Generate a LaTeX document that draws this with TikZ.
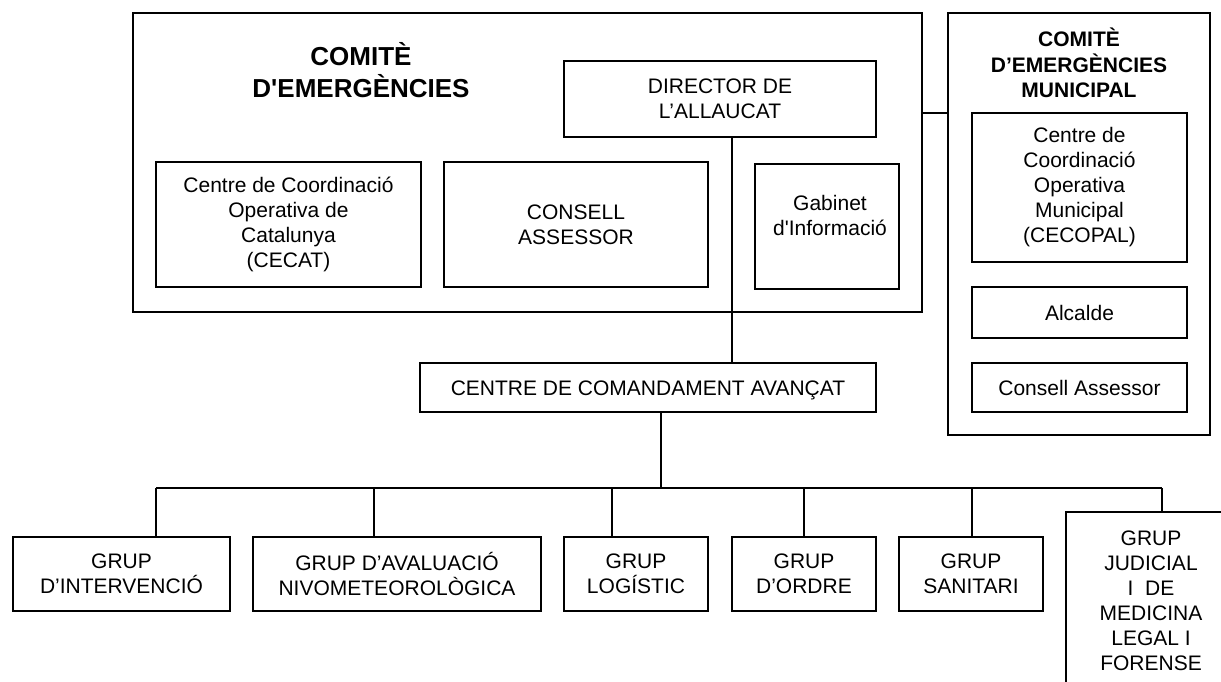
\documentclass[tikz,border=0pt]{standalone}
\usepackage{fontspec}
\setmainfont{Liberation Sans}
\begin{document}
\begin{tikzpicture}[x=1pt,y=-1pt,
  box/.style={draw,line width=2pt,inner sep=0pt,align=center,font=\fontsize{21}{25}\selectfont},
  txt/.style={inner sep=0pt,align=center,font=\fontsize{21}{25}\selectfont},
  conn/.style={line width=2pt}]
\useasboundingbox (0,0) rectangle (1221,682);
\fill[white] (0,0) rectangle (1221,682);
\clip (0,0) rectangle (1221,682);

% Comite d'emergencies
\node[box,minimum width=789,minimum height=299] (comite) at (527.5,162.5) {};
\node[txt,font=\bfseries\fontsize{26}{32}\selectfont] (comitet) at (361,70) {COMITÈ\\D\textquotesingle EMERGÈNCIES};
\node[box,minimum width=312,minimum height=76] (director) at (720,99) {DIRECTOR DE\\L’ALLAUCAT};
\node[box,minimum width=265,minimum height=125] (cecat) at (288.5,224.5) {Centre de Coordinació\\Operativa de\\Catalunya\\(CECAT)};
\node[box,minimum width=264,minimum height=125] (consell) at (576,224.5) {CONSELL\\ASSESSOR};
\node[box,minimum width=144,minimum height=125] (gab) at (827,226.5) {};
\node[txt] (gabt) at (830,215.5) {Gabinet\\d\textquotesingle Informació};

% Comite municipal
\node[box,minimum width=262,minimum height=422] (mun) at (1079,224) {};
\node[txt,font=\bfseries\fontsize{21}{25.5}\selectfont] (munt) at (1079,63) {COMITÈ\\D’EMERGÈNCIES\\MUNICIPAL};
\node[box,minimum width=215,minimum height=149] (cecopal) at (1079.5,187.5) {Centre de\\Coordinació\\Operativa\\Municipal\\(CECOPAL)};
\node[box,minimum width=215,minimum height=51] (alcalde) at (1079.5,312.5) {Alcalde};
\node[box,minimum width=215,minimum height=49] (cass) at (1079.5,387.5) {Consell Assessor};

% Centre de comandament
\node[box,minimum width=456,minimum height=49,text height=16pt,text depth=0pt] (cca) at (648,387.5) {CENTRE DE COMANDAMENT AVANÇAT};

% Grups
\node[box,minimum width=217,minimum height=74] (g1) at (121.5,574) {GRUP\\D’INTERVENCIÓ};
\node[box,minimum width=288,minimum height=74] (g2) at (397,574) {GRUP D’AVALUACIÓ\\NIVOMETEOROLÒGICA};
\node[box,minimum width=144,minimum height=74] (g3) at (636,574) {GRUP\\LOGÍSTIC};
\node[box,minimum width=144,minimum height=74] (g4) at (804,574) {GRUP\\D’ORDRE};
\node[box,minimum width=144,minimum height=74] (g5) at (971,574) {GRUP\\SANITARI};
\node[box,minimum width=170,minimum height=210] (g6) at (1151,617) {};
\node[txt] (g6t) at (1151,601) {GRUP\\JUDICIAL\\I\ \ DE\\MEDICINA\\LEGAL I\\FORENSE};

% Connectors
\coordinate (dx) at (732,0);
\draw[conn] (director.south -| dx) -- (cca.north -| dx);
\coordinate (cy) at (0,113);
\draw[conn] (comite.east |- cy) -- (mun.west |- cy);
\coordinate (bus) at (661,488);
\draw[conn] (cca.south -| bus) -- (bus);
\coordinate (b1) at (156,488);
\coordinate (b2) at (374,488);
\coordinate (b3) at (612,488);
\coordinate (b4) at (804,488);
\coordinate (b5) at (972,488);
\coordinate (b6) at (1162,488);
\draw[conn] (b1) -- (b6);
\foreach \i in {1,...,6} \draw[conn] (b\i) -- (g\i.north -| b\i);
\end{tikzpicture}
\end{document}
